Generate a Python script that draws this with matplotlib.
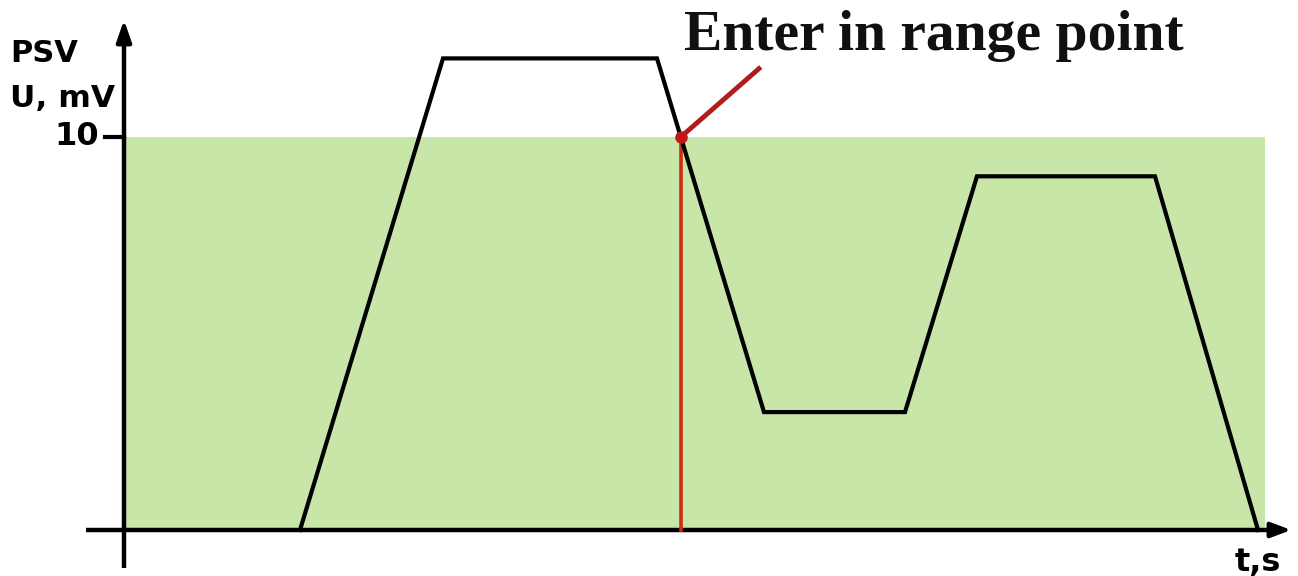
import matplotlib
matplotlib.use("Agg")
import matplotlib.pyplot as plt
from matplotlib.patches import Rectangle

# Data (t in arbitrary units, U in mV)
t_points = [1.76, 3.19, 5.33, 6.40, 7.81, 8.53, 10.31, 11.34]
u_points = [0.0, 12.0, 12.0, 3.0, 3.0, 9.0, 9.0, 0.0]
range_level = 10.0
range_t_end = 11.41
ytick_labels = ["10"]

# scale: 1 t unit = 100 px, 1 mV = 39.3 px; origin at pixel (124, 530)
W, H = 1298, 576
fig = plt.figure(figsize=(W / 100, H / 100), dpi=100)
ax = fig.add_axes([0, 0, 1, 1])
ax.set_xlim(-1.24, (W - 124) / 100)
ax.set_ylim(-(H - 530) / 39.3, 530 / 39.3)
ax.axis("off")

# green range band
ax.add_patch(Rectangle((0, 0), range_t_end, range_level, facecolor="#c8e6a8",
                       edgecolor="none", zorder=1))

# crossing point where signal enters range
t_cross = None
for i in range(len(t_points) - 1):
    u0, u1 = u_points[i], u_points[i + 1]
    if u0 > range_level >= u1:
        t_cross = t_points[i] + (u0 - range_level) / (u0 - u1) * (t_points[i + 1] - t_points[i])
        break

# axes
ax.plot([-0.38, 11.55], [0, 0], color="black", lw=3.2, zorder=3, solid_capstyle="butt")
ax.annotate("", xy=(11.70, 0), xytext=(11.40, 0),
            arrowprops=dict(arrowstyle="-|>,head_length=1.2,head_width=0.45",
                            color="black", lw=3), zorder=4)
ax.plot([0, 0], [-0.97, 12.8], color="black", lw=3.2, zorder=3, solid_capstyle="butt")
ax.annotate("", xy=(0, 13.05), xytext=(0, 12.2),
            arrowprops=dict(arrowstyle="-|>,head_length=1.3,head_width=0.45",
                            color="black", lw=3), zorder=4)
# tick at 10
ax.plot([-0.19, 0], [range_level, range_level], color="black", lw=3, zorder=3)
ax.text(-0.25, range_level, ytick_labels[0], ha="right", va="center",
        fontsize=23, fontweight="bold", family="DejaVu Sans", zorder=5)

# signal
ax.plot(t_points, u_points, color="black", lw=3, zorder=4, solid_joinstyle="miter")

# red vertical line and annotation
ax.plot([t_cross, t_cross], [0, range_level], color="#d22b10", lw=2.6, zorder=3)
ax.plot([t_cross, t_cross + 0.8], [range_level, range_level + 1.78], color="#b01c1c",
        lw=3.5, zorder=5, solid_capstyle="butt")
ax.plot([t_cross], [range_level], "o", color="#c01818", ms=8, zorder=6)

ax.text(t_cross + 0.03, 12.57, "Enter in range point", ha="left", va="center",
        fontsize=41.5, fontweight="bold", family="Liberation Serif", color="#101010", zorder=5)

# axis labels
ax.text(-1.14, 12.12, "PSV", ha="left", va="center", fontsize=22, fontweight="bold",
        family="DejaVu Sans")
ax.text(-1.14, 10.98, "U, mV", ha="left", va="center", fontsize=22.5, fontweight="bold",
        family="DejaVu Sans")
ax.text(11.34, -0.82, "t,s", ha="center", va="center", fontsize=23, fontweight="bold",
        family="DejaVu Sans")

fig.savefig("out.png", dpi=100, facecolor="white")
